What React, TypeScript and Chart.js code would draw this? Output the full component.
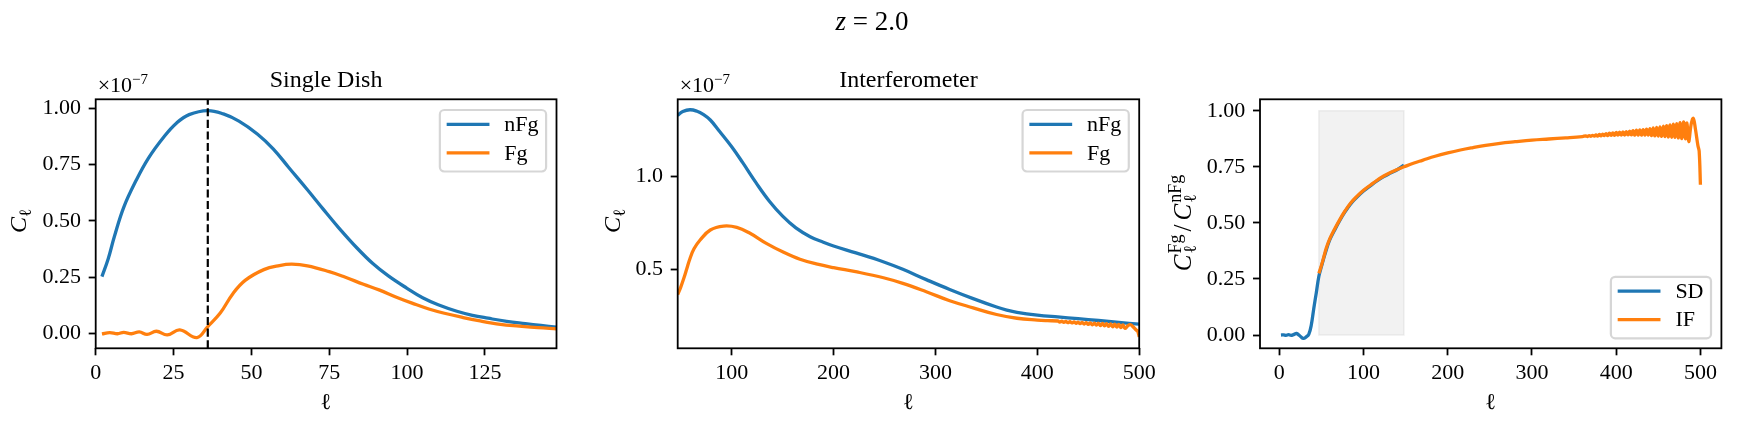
import { useEffect, useRef } from 'react';
import { Chart, registerables } from 'chart.js';

Chart.register(...registerables);

const SERIF = "'Liberation Serif', 'DejaVu Serif', 'Times New Roman', serif";
const BLUE = '#1f77b4';
const ORANGE = '#ff7f0e';
const FIG_H = 436;

// ---------- Panel 1: Single Dish (C_ell, units of 1e-7) ----------
const sdNFgEll = [2, 4, 6, 9, 13, 17, 22, 26, 30, 36, 41, 46, 52, 57, 62, 68, 73, 78, 84, 89, 94, 100, 105, 110, 116, 121, 126, 132, 138, 143, 148];
const sdNFg = [0.252, 0.33, 0.43, 0.56, 0.68, 0.78, 0.875, 0.935, 0.972, 0.99, 0.975, 0.943, 0.885, 0.82, 0.737, 0.638, 0.553, 0.47, 0.378, 0.31, 0.255, 0.2, 0.158, 0.127, 0.098, 0.08, 0.067, 0.053, 0.043, 0.035, 0.027];
const sdFgEll = [2, 4.5, 7, 9, 11.5, 14, 16.5, 19.5, 23, 27, 32.5, 36, 40, 44, 48, 54, 59, 63, 68, 75, 80, 86, 91, 97, 102, 107, 112, 118, 123, 130, 136, 142, 148];
const sdFg = [-0.003, 0.003, -0.002, 0.004, -0.002, 0.006, -0.005, 0.009, -0.007, 0.015, -0.019, 0.03, 0.09, 0.175, 0.235, 0.283, 0.301, 0.307, 0.3, 0.274, 0.25, 0.218, 0.193, 0.158, 0.132, 0.108, 0.089, 0.07, 0.056, 0.04, 0.032, 0.025, 0.02];
const sdPeakEll = 36;
const sdXTicks = [0, 25, 50, 75, 100, 125];
const sdYTicks = [0, 0.25, 0.5, 0.75, 1.0];

// ---------- Panel 2: Interferometer (C_ell, units of 1e-7) ----------
const ifNFgEll = [47, 52, 59, 66, 72, 79, 88, 100, 111, 124, 137, 150, 163, 177, 190, 200, 222, 248, 268, 291, 314, 337, 360, 370, 380, 400, 420, 440, 460, 480, 500];
const ifNFg = [1.325, 1.345, 1.355, 1.347, 1.33, 1.30, 1.24, 1.157, 1.07, 0.963, 0.865, 0.785, 0.722, 0.675, 0.645, 0.625, 0.588, 0.542, 0.5, 0.445, 0.392, 0.343, 0.298, 0.282, 0.27, 0.255, 0.245, 0.236, 0.226, 0.216, 0.206];
const ifFgEll = [47, 50, 53, 56, 59, 63, 69, 79, 92, 105, 118, 134, 151, 167, 183, 200, 223, 249, 268, 291, 314, 337, 360, 380, 400, 410,
  420, 422, 424, 426, 428, 430, 432, 434, 436, 438, 440, 442, 444, 446, 448, 450, 452, 454, 456, 458, 460, 462, 464, 466, 468, 470, 472, 474, 476, 478, 480, 482, 484, 486,
  489, 491.5, 494, 497, 498.5, 500];
const ifFg = [0.365, 0.405, 0.452, 0.505, 0.557, 0.61, 0.657, 0.711, 0.732, 0.725, 0.693, 0.639, 0.591, 0.554, 0.529, 0.509, 0.486, 0.455, 0.425, 0.38, 0.332, 0.294, 0.258, 0.238, 0.228, 0.225,
  0.2232, 0.2175, 0.2220, 0.2159, 0.2209, 0.2143, 0.2195, 0.2127, 0.2183, 0.2111, 0.2171, 0.2089, 0.2160, 0.2069, 0.2148, 0.2049, 0.2134, 0.2029, 0.2123, 0.2009, 0.2111, 0.1987, 0.2099, 0.1967, 0.2087, 0.1947, 0.2072, 0.1925, 0.2064, 0.1901, 0.2052, 0.1881, 0.2022, 0.1836,
  0.1988, 0.2031, 0.1923, 0.1753, 0.1696, 0.138];
const ifXTicks = [100, 200, 300, 400, 500];
const ifYTicks = [0.5, 1.0];

// ---------- Panel 3: ratio C_ell^Fg / C_ell^nFg ----------
const ratioSdEll = [2, 5, 8, 11, 14, 17, 20.5, 24, 28.5, 32, 35, 38, 41, 44, 47, 50, 55, 60, 66, 72, 78, 85, 92, 100, 108, 116, 124, 132, 140, 148];
const ratioSd = [0, 0.001, -0.001, 0.002, -0.001, 0.002, 0.007, -0.002, -0.015, -0.008, 0.003, 0.045, 0.12, 0.19, 0.262, 0.305, 0.37, 0.425, 0.47, 0.512, 0.549, 0.586, 0.614, 0.642, 0.665, 0.687, 0.706, 0.722, 0.737, 0.758];
const ratioIfEll = [47, 50, 53, 56, 60, 66, 72, 78, 85, 92, 100, 108, 116, 124, 132, 140, 148, 160, 170, 185, 200, 215, 230, 245, 262, 280, 300, 320, 340, 360,
  364, 366, 368, 370, 372, 374, 376, 378,
  380, 382, 384, 386, 388, 390, 392, 394, 396, 398, 400, 402, 404, 406, 408, 410, 412, 414, 416, 418,
  420, 422, 424, 426, 428, 430, 432, 434, 436, 438, 440, 442, 444, 446, 448, 450, 452, 454, 456, 458,
  460, 462, 464, 466, 468, 470, 472, 474, 476, 478, 480, 482, 484, 486,
  489, 491.5, 494, 497, 498.5, 500];
const ratioIf = [0.275, 0.31, 0.35, 0.39, 0.43, 0.475, 0.516, 0.553, 0.59, 0.618, 0.646, 0.668, 0.69, 0.709, 0.725, 0.738, 0.75, 0.767, 0.779, 0.797, 0.812, 0.825, 0.836, 0.846, 0.855, 0.862, 0.869, 0.874, 0.879, 0.885,
  0.888, 0.885, 0.889, 0.886, 0.890, 0.887, 0.892, 0.887,
  0.894, 0.888, 0.896, 0.889, 0.898, 0.889, 0.900, 0.890, 0.901, 0.890, 0.903, 0.891, 0.905, 0.891, 0.906, 0.891, 0.907, 0.892, 0.909, 0.892,
  0.911, 0.891, 0.913, 0.891, 0.915, 0.891, 0.916, 0.891, 0.918, 0.891, 0.920, 0.889, 0.923, 0.888, 0.926, 0.887, 0.928, 0.886, 0.931, 0.885,
  0.934, 0.883, 0.937, 0.882, 0.940, 0.881, 0.942, 0.879, 0.947, 0.876, 0.950, 0.875, 0.945, 0.862,
  0.94, 0.966, 0.92, 0.845, 0.82, 0.67];
const shadeEll = [47, 148];
const shadeRatio = [0, 1];
const ratioXTicks = [0, 100, 200, 300, 400, 500];
const ratioYTicks = [0, 0.25, 0.5, 0.75, 1.0];

// ---------- helpers ----------
type Run = { t: string; size: number; italic?: boolean; dy?: number; gap?: number };
type Part = Run | { sub: Run; sup: Run };

const runFont = (r: Run) => `${r.italic ? 'italic ' : ''}${r.size}px ${SERIF}`;
function runWidth(ctx: CanvasRenderingContext2D, r: Run) {
  ctx.font = runFont(r);
  return ctx.measureText(r.t).width + (r.gap || 0);
}
function partWidth(ctx: CanvasRenderingContext2D, p: Part) {
  return 'sub' in p ? Math.max(runWidth(ctx, p.sub), runWidth(ctx, p.sup)) : runWidth(ctx, p);
}
function drawRun(ctx: CanvasRenderingContext2D, r: Run, x: number) {
  ctx.font = runFont(r);
  ctx.fillText(r.t, x, r.dy || 0);
}
function drawMath(ctx: CanvasRenderingContext2D, parts: Part[], x: number, y: number, angle = 0) {
  ctx.save();
  ctx.translate(x, y);
  if (angle) ctx.rotate(angle);
  ctx.fillStyle = '#000';
  ctx.textBaseline = 'alphabetic';
  ctx.textAlign = 'left';
  const total = parts.reduce((s, p) => s + partWidth(ctx, p), 0);
  let cx = -total / 2;
  for (const p of parts) {
    if ('sub' in p) {
      drawRun(ctx, p.sub, cx);
      drawRun(ctx, p.sup, cx);
    } else drawRun(ctx, p, cx);
    cx += partWidth(ctx, p);
  }
  ctx.restore();
}
function drawTextLeft(ctx: CanvasRenderingContext2D, parts: Run[], x: number, y: number) {
  ctx.save();
  ctx.fillStyle = '#000';
  ctx.textBaseline = 'alphabetic';
  ctx.textAlign = 'left';
  let cx = x;
  for (const r of parts) {
    ctx.font = runFont(r);
    ctx.fillText(r.t, cx, y + (r.dy || 0));
    cx += runWidth(ctx, r);
  }
  ctx.restore();
}
function drawLegend(ctx: CanvasRenderingContext2D, area: any, items: [string, string][], corner: 'top' | 'bottom') {
  ctx.save();
  ctx.font = `22px ${SERIF}`;
  const tw = Math.max(...items.map((i) => ctx.measureText(i[0]).width));
  const w = 64.5 + tw + 7.5;
  const h = 61.5;
  const x = area.right - 10.4 - w;
  const y = corner === 'top' ? area.top + 10.7 : area.bottom - 10 - h;
  const r = 4.4;
  ctx.beginPath();
  ctx.moveTo(x + r, y);
  ctx.lineTo(x + w - r, y);
  ctx.arcTo(x + w, y, x + w, y + r, r);
  ctx.lineTo(x + w, y + h - r);
  ctx.arcTo(x + w, y + h, x + w - r, y + h, r);
  ctx.lineTo(x + r, y + h);
  ctx.arcTo(x, y + h, x, y + h - r, r);
  ctx.lineTo(x, y + r);
  ctx.arcTo(x, y, x + r, y, r);
  ctx.closePath();
  ctx.fillStyle = 'rgba(255,255,255,0.8)';
  ctx.fill();
  ctx.strokeStyle = 'rgba(204,204,204,0.8)';
  ctx.lineWidth = 2.2;
  ctx.stroke();
  items.forEach(([label, color], i) => {
    const ry = y + 14.3 + i * 28.6;
    ctx.beginPath();
    ctx.moveTo(x + 6.8, ry);
    ctx.lineTo(x + 49.6, ry);
    ctx.strokeStyle = color;
    ctx.lineWidth = 3.3;
    ctx.stroke();
    ctx.fillStyle = '#000';
    ctx.textBaseline = 'middle';
    ctx.textAlign = 'left';
    ctx.font = `22px ${SERIF}`;
    ctx.fillText(label, x + 64.5, ry + 1);
  });
  ctx.restore();
}

const pts = (xs: number[], ys: number[]) => xs.map((x, i) => ({ x, y: ys[i] }));

const lineDs = (label: string, data: any[], color: string, order: number) => ({
  label,
  data,
  borderColor: color,
  backgroundColor: color,
  borderWidth: 3.3,
  pointRadius: 0,
  fill: false,
  tension: 0.4,
  cubicInterpolationMode: 'default',
  borderJoinStyle: 'round',
  order,
});

interface PanelSpec {
  ox: number;
  w: number;
  area: { l: number; t: number; r: number; b: number };
  xMin: number; xMax: number; yMin: number; yMax: number;
  xTicks: number[]; yTicks: number[];
  xFmt: (v: number) => string; yFmt: (v: number) => string;
  datasets: any[];
  under?: (ctx: CanvasRenderingContext2D, chart: any) => void;
  over?: (ctx: CanvasRenderingContext2D, chart: any) => void;
  overlay: (ctx: CanvasRenderingContext2D, chart: any) => void;
}

const Y_AXIS_W = 80;
const X_AXIS_H = 60;

function buildChart(canvas: HTMLCanvasElement, s: PanelSpec) {
  const padding = {
    left: s.area.l - s.ox - Y_AXIS_W,
    top: s.area.t,
    right: s.ox + s.w - s.area.r,
    bottom: FIG_H - s.area.b - X_AXIS_H,
  };
  const tickFont = { family: SERIF, size: 22 };
  const grid = { display: true, drawOnChartArea: false, drawTicks: true, tickLength: 7, tickWidth: 1.8, tickColor: '#000' };
  const deco = {
    id: 'deco',
    beforeDatasetsDraw(chart: any) {
      if (s.under) {
        const ctx = chart.ctx;
        ctx.save();
        s.under(ctx, chart);
        ctx.restore();
      }
    },
    afterDatasetsDraw(chart: any) {
      const ctx = chart.ctx;
      ctx.save();
      if (s.over) s.over(ctx, chart);
      const a = chart.chartArea;
      ctx.setLineDash([]);
      ctx.strokeStyle = '#000';
      ctx.lineWidth = 1.8;
      ctx.strokeRect(a.left, a.top, a.right - a.left, a.bottom - a.top);
      ctx.restore();
    },
    afterDraw(chart: any) {
      const ctx = chart.ctx;
      ctx.save();
      ctx.translate(-s.ox, 0);
      s.overlay(ctx, chart);
      ctx.restore();
    },
  };
  return new Chart(canvas, {
    type: 'line',
    data: { datasets: s.datasets },
    options: {
      responsive: false,
      animation: false,
      events: [],
      layout: { padding },
      plugins: { legend: { display: false }, tooltip: { enabled: false }, title: { display: false } },
      scales: {
        x: {
          type: 'linear',
          position: 'bottom',
          min: s.xMin,
          max: s.xMax,
          afterFit: (sc: any) => { sc.height = X_AXIS_H; },
          afterBuildTicks: (sc: any) => { sc.ticks = s.xTicks.map((v) => ({ value: v })); },
          ticks: { autoSkip: false, maxRotation: 0, minRotation: 0, padding: 5, color: '#000', font: tickFont, callback: (v: any) => s.xFmt(Number(v)) },
          grid,
          border: { display: false },
        },
        y: {
          type: 'linear',
          position: 'left',
          min: s.yMin,
          max: s.yMax,
          afterFit: (sc: any) => { sc.width = Y_AXIS_W; },
          afterBuildTicks: (sc: any) => { sc.ticks = s.yTicks.map((v) => ({ value: v })); },
          ticks: { autoSkip: false, padding: 7.7, color: '#000', font: tickFont, callback: (v: any) => s.yFmt(Number(v)) },
          grid,
          border: { display: false },
        },
      },
    } as any,
    plugins: [deco],
  } as any);
}

const ell: Run = { t: '\u2113', size: 17, dy: 5 };

function xLabel(ctx: CanvasRenderingContext2D, chart: any, ox: number) {
  const a = chart.chartArea;
  drawMath(ctx, [{ t: '\u2113', size: 23 }], ox + (a.left + a.right) / 2, 409);
}
function offsetText(ctx: CanvasRenderingContext2D, x: number) {
  drawTextLeft(ctx, [{ t: '\u00d710', size: 22 }, { t: '\u22127', size: 15, dy: -8 }], x, 92);
}

export default function App() {
  const r1 = useRef<HTMLCanvasElement>(null);
  const r2 = useRef<HTMLCanvasElement>(null);
  const r3 = useRef<HTMLCanvasElement>(null);

  useEffect(() => {
    const p1: PanelSpec = {
      ox: 0, w: 590,
      area: { l: 95.7, t: 99.3, r: 556.5, b: 348.3 },
      xMin: 0, xMax: 148, yMin: -0.0667, yMax: 1.04,
      xTicks: sdXTicks, yTicks: sdYTicks,
      xFmt: (v) => String(v), yFmt: (v) => v.toFixed(2),
      datasets: [
        lineDs('nFg', pts(sdNFgEll, sdNFg), BLUE, 1),
        lineDs('Fg', pts(sdFgEll, sdFg), ORANGE, 0),
      ],
      over: (ctx, chart) => {
        const x = chart.scales.x.getPixelForValue(sdPeakEll);
        const a = chart.chartArea;
        ctx.beginPath();
        ctx.setLineDash([8.1, 3.5]);
        ctx.strokeStyle = '#000';
        ctx.lineWidth = 2.2;
        ctx.moveTo(x, a.bottom);
        ctx.lineTo(x, a.top);
        ctx.stroke();
      },
      overlay: (ctx, chart) => {
        const a = chart.chartArea;
        drawMath(ctx, [{ t: 'Single Dish', size: 24 }], (a.left + a.right) / 2, 87);
        offsetText(ctx, a.left + 2);
        drawMath(ctx, [{ t: 'C', size: 24, italic: true }, ell], 26, 221, -Math.PI / 2);
        xLabel(ctx, chart, 0);
        drawLegend(ctx, a, [['nFg', BLUE], ['Fg', ORANGE]], 'top');
      },
    };
    const p2: PanelSpec = {
      ox: 590, w: 575,
      area: { l: 677.7, t: 99.3, r: 1139.2, b: 348.3 },
      xMin: 47, xMax: 500, yMin: 0.077, yMax: 1.411,
      xTicks: ifXTicks, yTicks: ifYTicks,
      xFmt: (v) => String(v), yFmt: (v) => v.toFixed(1),
      datasets: [
        lineDs('nFg', pts(ifNFgEll, ifNFg), BLUE, 1),
        lineDs('Fg', pts(ifFgEll, ifFg), ORANGE, 0),
      ],
      overlay: (ctx, chart) => {
        const a = chart.chartArea;
        const ox = 590;
        drawMath(ctx, [{ t: 'z', size: 27, italic: true }, { t: ' = 2.0', size: 27 }], 872, 30);
        drawMath(ctx, [{ t: 'Interferometer', size: 24 }], ox + (a.left + a.right) / 2, 87);
        offsetText(ctx, ox + a.left + 2);
        drawMath(ctx, [{ t: 'C', size: 24, italic: true }, ell], 620, 221, -Math.PI / 2);
        xLabel(ctx, chart, ox);
        ctx.save();
        ctx.translate(ox, 0);
        drawLegend(ctx, a, [['nFg', BLUE], ['Fg', ORANGE]], 'top');
        ctx.restore();
      },
    };
    const p3: PanelSpec = {
      ox: 1165, w: 578,
      area: { l: 1260, t: 99.3, r: 1721.4, b: 348.3 },
      xMin: -22.9, xMax: 524.9, yMin: -0.059, yMax: 1.051,
      xTicks: ratioXTicks, yTicks: ratioYTicks,
      xFmt: (v) => String(v), yFmt: (v) => v.toFixed(2),
      datasets: [
        lineDs('SD', pts(ratioSdEll, ratioSd), BLUE, 1),
        lineDs('IF', pts(ratioIfEll, ratioIf), ORANGE, 0),
      ],
      under: (ctx, chart) => {
        const xs = chart.scales.x;
        const ys = chart.scales.y;
        const x0 = xs.getPixelForValue(shadeEll[0]);
        const x1 = xs.getPixelForValue(shadeEll[1]);
        const y0 = ys.getPixelForValue(shadeRatio[0]);
        const y1 = ys.getPixelForValue(shadeRatio[1]);
        ctx.fillStyle = 'rgba(128,128,128,0.1)';
        ctx.fillRect(x0, y1, x1 - x0, y0 - y1);
        ctx.strokeStyle = 'rgba(128,128,128,0.12)';
        ctx.lineWidth = 1.5;
        ctx.strokeRect(x0, y1, x1 - x0, y0 - y1);
      },
      overlay: (ctx, chart) => {
        const a = chart.chartArea;
        const ox = 1165;
        const sc = 18;
        drawMath(ctx, [
          { t: 'C', size: 25, italic: true, gap: 1 },
          { sub: { t: '\u2113', size: sc, dy: 5, gap: 3 }, sup: { t: 'Fg', size: sc, dy: -10, gap: 3 } },
          { t: '/', size: 25, gap: 4 },
          { t: 'C', size: 25, italic: true, gap: 1 },
          { sub: { t: '\u2113', size: sc, dy: 5 }, sup: { t: 'nFg', size: sc, dy: -10 } },
        ], 1191, 223, -Math.PI / 2);
        xLabel(ctx, chart, ox);
        ctx.save();
        ctx.translate(ox, 0);
        drawLegend(ctx, a, [['SD', BLUE], ['IF', ORANGE]], 'bottom');
        ctx.restore();
      },
    };
    const charts = [buildChart(r1.current!, p1), buildChart(r2.current!, p2), buildChart(r3.current!, p3)];
    return () => charts.forEach((c) => c.destroy());
  }, []);

  const cs = (left: number, w: number) => ({ position: 'absolute' as const, left, top: 0, width: w, height: FIG_H });
  return (
    <div style={{ position: 'absolute', left: 0, top: 0, width: 1743, height: FIG_H, background: '#fff' }}>
      <canvas ref={r1} width={590} height={FIG_H} style={cs(0, 590)} />
      <canvas ref={r2} width={575} height={FIG_H} style={cs(590, 575)} />
      <canvas ref={r3} width={578} height={FIG_H} style={cs(1165, 578)} />
    </div>
  );
}
